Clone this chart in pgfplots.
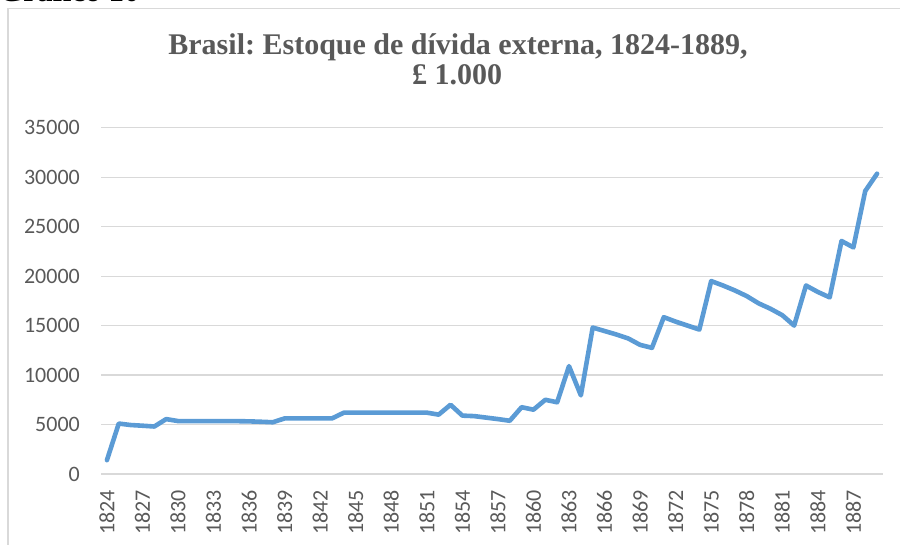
\documentclass[border=0pt]{standalone}
\usepackage{fontspec}
\setmainfont{Carlito}
\newfontfamily\titlefont{Liberation Serif}
\usepackage{pgfplots}
\pgfplotsset{compat=1.18}
\definecolor{linec}{HTML}{5B9BD5}
\definecolor{gridc}{HTML}{D9D9D9}
\definecolor{txtc}{HTML}{595959}
\frenchspacing
\begin{document}
\begin{tikzpicture}[x=1pt,y=1pt]
\begin{axis}[
  at={(101pt,70pt)}, anchor=south west,
  width=782pt, height=346.3pt, scale only axis,
  xmin=1823.5, xmax=1889.5, ymin=0, ymax=35000,
  axis line style={draw=none},
  major tick length=0pt,
  scaled y ticks=false, scaled x ticks=false,
  ytick={0,5000,...,35000},
  yticklabels={0,5000,10000,15000,20000,25000,30000,35000},
  xtick={1824,1827,...,1887},
  xticklabels={1824,1827,1830,1833,1836,1839,1842,1845,1848,1851,1854,1857,1860,1863,1866,1869,1872,1875,1878,1881,1884,1887},
  ymajorgrids, grid style={gridc, line width=1.2pt},
  tick label style={font=\fontsize{22}{26}\selectfont, text=txtc, inner sep=0pt},
  yticklabel style={anchor=east, xshift=-21pt},
  xticklabel style={rotate=90, anchor=east, xshift=-16pt},
  clip=false,
]
\addplot[linec, line width=4.6pt, line join=round, line cap=round] coordinates {
(1824,1400)(1825,5100)(1826,4950)(1827,4880)(1828,4800)(1829,5550)(1830,5350)
(1831,5350)(1832,5350)(1833,5350)(1834,5350)(1835,5340)(1836,5320)(1837,5280)
(1838,5230)(1839,5620)(1840,5620)(1841,5620)(1842,5620)(1843,5620)(1844,6200)
(1845,6200)(1846,6200)(1847,6200)(1848,6200)(1849,6200)(1850,6200)(1851,6200)
(1852,6000)(1853,7000)(1854,5900)(1855,5850)(1856,5700)(1857,5550)(1858,5380)
(1859,6750)(1860,6500)(1861,7500)(1862,7250)(1863,10900)(1864,7950)(1865,14800)
(1866,14450)(1867,14100)(1868,13700)(1869,13050)(1870,12750)(1871,15850)(1872,15400)
(1873,15000)(1874,14600)(1875,19500)(1876,19050)(1877,18550)(1878,17980)(1879,17250)
(1880,16700)(1881,16050)(1882,15000)(1883,19050)(1884,18400)(1885,17850)(1886,23550)
(1887,22900)(1888,28600)(1889,30350)
};
\end{axis}
\draw[gridc, line width=1.6pt] (8pt,-2pt) -- (8pt,535.5pt) -- (905pt,535.5pt);
\node[anchor=base, inner sep=0pt, text=txtc, font=\titlefont\bfseries\fontsize{30}{36}\selectfont] at (458pt,489pt) {Brasil: Estoque de dívida externa, 1824-1889,};
\node[anchor=base, inner sep=0pt, text=txtc, font=\titlefont\bfseries\fontsize{30}{36}\selectfont] at (457pt,459pt) {£ 1.000};
\node[anchor=base west, inner sep=0pt, font=\titlefont\bfseries\fontsize{31}{36}\selectfont] at (-1pt,542pt) {Gráfico 10};
\pgfresetboundingbox
\path[use as bounding box] (0,0) rectangle (900pt,544pt);
\end{tikzpicture}
\end{document}
